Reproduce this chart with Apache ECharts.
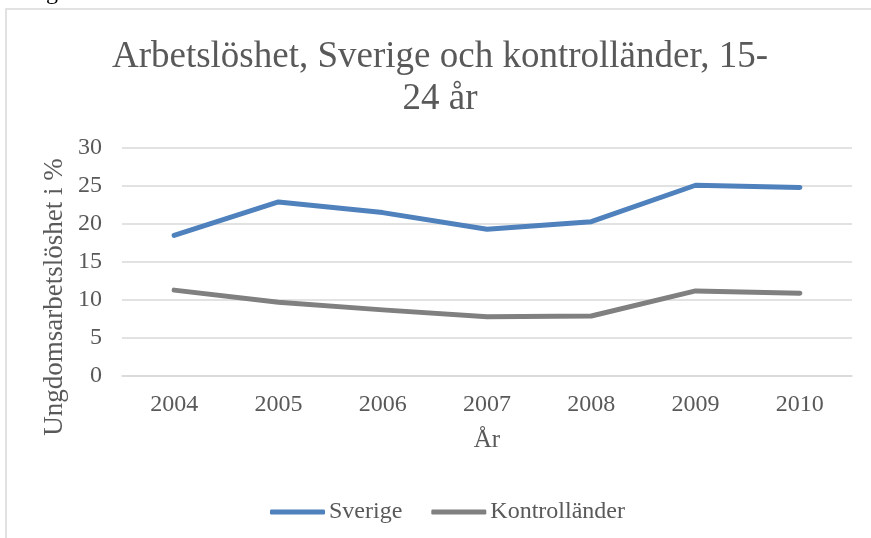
<!DOCTYPE html>
<html>
<head>
<meta charset="utf-8">
<script src="https://cdn.jsdelivr.net/npm/echarts@6/dist/echarts.min.js"></script>
<style>
  html, body { margin: 0; padding: 0; background: #fff; }
  #chart { width: 871px; height: 538px; }
</style>
</head>
<body>
<div id="chart"></div>
<script>
const years = ['2004', '2005', '2006', '2007', '2008', '2009', '2010']
const sverige = [18.5, 22.9, 21.5, 19.3, 20.3, 25.1, 24.8]
const kontroll = [11.3, 9.7, 8.7, 7.8, 7.9, 11.2, 10.9]

const serif = '"Liberation Serif", "DejaVu Serif", serif'
const textColor = '#595959'
const gridColor = '#d9d9d9'

const chart = echarts.init(document.getElementById('chart'))

chart.setOption({
  animation: false,
  title: {
    text: 'Arbetslöshet, Sverige och kontrolländer, 15-\n24 år',
    left: 435,
    top: 31,
    textAlign: 'center',
    textStyle: {
      fontFamily: serif,
      fontSize: 37,
      fontWeight: 'normal',
      color: textColor,
      lineHeight: 42
    }
  },
  graphic: [
    {
      type: 'rect',
      shape: { x: 6, y: 9, width: 1000, height: 1000 },
      style: { fill: 'none', stroke: gridColor, lineWidth: 1.5 },
      silent: true
    },
    {
      type: 'text',
      x: 55,
      y: 297,
      rotation: Math.PI / 2,
      style: {
        text: 'Ungdomsarbetslöshet i %',
        font: '27px ' + serif,
        fill: textColor,
        textAlign: 'center',
        textVerticalAlign: 'middle'
      }
    },
    {
      type: 'text',
      x: 52,
      y: -7,
      style: {
        text: 'g',
        font: '24px ' + serif,
        fill: '#000',
        textAlign: 'center',
        textVerticalAlign: 'middle'
      }
    }
  ],
  legend: {
    bottom: 9,
    left: 265,
    itemWidth: 55,
    itemHeight: 5,
    itemGap: 29,
    textStyle: { fontFamily: serif, fontSize: 24, color: textColor, padding: [0, 0, 0, -1] },
    data: [
      { name: 'Sverige', icon: 'roundRect' },
      { name: 'Kontrolländer', icon: 'roundRect' }
    ]
  },
  grid: { left: 122, right: 19, top: 148, bottom: 162 },
  xAxis: {
    type: 'category',
    data: years,
    name: 'År',
    nameLocation: 'middle',
    nameGap: 52,
    nameTextStyle: { fontFamily: serif, fontSize: 25, color: textColor },
    axisLine: { lineStyle: { color: gridColor, width: 1.5 } },
    axisTick: { show: false },
    axisLabel: { fontFamily: serif, fontSize: 24, color: textColor, margin: 17 }
  },
  yAxis: {
    type: 'value',
    min: 0,
    max: 30,
    interval: 5,
    axisLine: { show: false },
    axisTick: { show: false },
    axisLabel: { fontFamily: serif, fontSize: 24, color: textColor, margin: 20 },
    splitLine: { lineStyle: { color: gridColor, width: 1.5 } }
  },
  series: [
    {
      name: 'Sverige',
      type: 'line',
      data: sverige,
      symbol: 'none',
      lineStyle: { color: '#4f81bd', width: 5, cap: 'round', join: 'round' },
      itemStyle: { color: '#4f81bd' }
    },
    {
      name: 'Kontrolländer',
      type: 'line',
      data: kontroll,
      symbol: 'none',
      lineStyle: { color: '#808080', width: 5, cap: 'round', join: 'round' },
      itemStyle: { color: '#808080' }
    }
  ]
})
</script>
</body>
</html>
